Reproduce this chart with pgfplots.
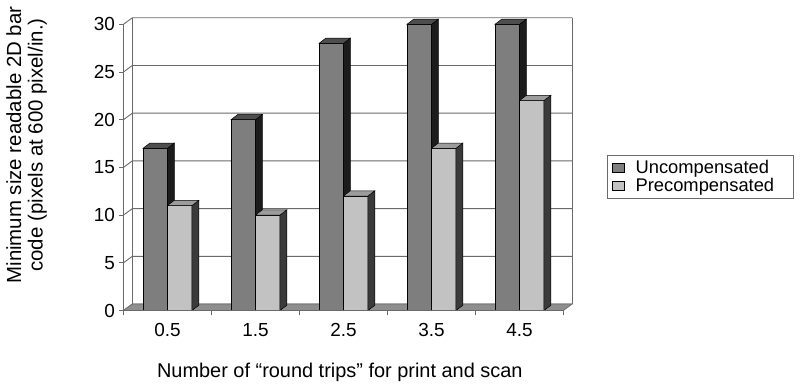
\documentclass[border=0pt]{standalone}
\usepackage{pgfplots}
\usepackage{pgfplotstable}
\usepackage{fontspec}
\setmainfont{Liberation Sans}
\pgfplotsset{compat=1.18}

\definecolor{uncFront}{HTML}{7E7E7E}
\definecolor{uncSide}{HTML}{1C1C1C}
\definecolor{uncTop}{HTML}{4E4E4E}
\definecolor{preFront}{HTML}{C2C2C2}
\definecolor{preSide}{HTML}{3A3A3A}
\definecolor{preTop}{HTML}{9C9C9C}
\definecolor{wallLine}{HTML}{6A6A6A}
\definecolor{floorFill}{HTML}{8E8E8E}

\pgfplotstableread{
x    unc  pre
0.5  17   11
1.5  20   10
2.5  28   12
3.5  30   17
4.5  30   22
}\roundtrips

% depth of a column and of the chart walls, in axis units
\def\bdx{0.078}\def\bdy{0.55}
\def\wdx{0.1}\def\wdy{0.68}
\def\bw{0.278}

% side and top faces of a column: #1 right edge of front face, #2 height
\newcommand\columnfaces[4]{%
  \pgfmathsetmacro\xr{#1}%
  \pgfmathsetmacro\xl{#1-\bw}%
  \pgfmathsetmacro\xrb{#1+\bdx}%
  \pgfmathsetmacro\xlb{#1-\bw+\bdx}%
  \pgfmathsetmacro\yt{#2+\bdy}%
  \edef\tmp{%
    \noexpand\addplot[forget plot,fill=#3,draw=black,line width=0.5bp]
      coordinates {(\xr,0) (\xrb,\bdy) (\xrb,\yt) (\xr,#2)} -- cycle;
    \noexpand\addplot[forget plot,fill=#4,draw=black,line width=0.5bp]
      coordinates {(\xl,#2) (\xlb,\yt) (\xrb,\yt) (\xr,#2)} -- cycle;}%
  \tmp}

\begin{document}
\begin{tikzpicture}
\begin{axis}[
  at={(123.5bp,78.5bp)}, anchor=south west,
  scale only axis, width=448.8bp, height=292.9bp,
  xmin=0, xmax=5.1, ymin=0, ymax=30.7,
  clip=false,
  axis line style={draw=none},
  tick align=outside, xtick pos=left, ytick pos=left,
  major tick length=5bp, minor tick length=5bp,
  tick style={draw=wallLine, line width=0.8bp},
  xtick={0.5,1.5,2.5,3.5,4.5},
  xticklabels={0.5,1.5,2.5,3.5,4.5},
  major x tick style={draw=none},
  minor xtick={0,1,2,3,4,5},
  ytick={0,5,...,30},
  /pgf/number format/assume math mode=true,
  ticklabel style={font=\fontsize{19}{22}\selectfont},
  xticklabel style={yshift=-4bp},
  xlabel={Number of “round trips” for print and scan},
  xlabel style={at={(axis description cs:0.482,-0.21)}, anchor=center,
    font=\fontsize{20}{22}\selectfont},
  ylabel={Minimum size readable 2D bar\\code (pixels at 600 pixel/in.)},
  ylabel style={at={(axis description cs:-0.216,0.565)}, anchor=center,
    align=center, font=\fontsize{20.5}{21.5}\selectfont},
  legend style={at={(axis description cs:1.0767,0.531)}, anchor=north west,
    draw=wallLine, line width=0.8bp, font=\fontsize{18.4}{20}\selectfont,
    inner xsep=5bp, inner ysep=3bp, row sep=-0.5bp, column sep=9bp},
  legend cell align=left,
  legend image code/.code={\draw[#1,line width=0.5bp] (0bp,-4.5bp) rectangle (12bp,4.5bp);},
]
% back wall: gridlines with their short run across the side wall
\pgfplotsinvokeforeach{0,5,...,30}{%
  \pgfmathsetmacro\gy{#1+\wdy}%
  \pgfmathsetmacro\gx{5+\wdx}%
  \edef\tmp{\noexpand\addplot[forget plot,draw=wallLine,line width=0.9bp]
    coordinates {(0,#1) (\wdx,\gy) (\gx,\gy)};}\tmp}
\pgfmathsetmacro\wtop{30+\wdy}
\pgfmathsetmacro\wright{5+\wdx}
\edef\tmp{%
  \noexpand\addplot[forget plot,draw=wallLine,line width=0.9bp]
    coordinates {(\wdx,\wdy) (\wdx,\wtop)};
  \noexpand\addplot[forget plot,draw=wallLine,line width=0.9bp]
    coordinates {(\wright,\wdy) (\wright,\wtop)};
  \noexpand\addplot[forget plot,fill=floorFill,draw=wallLine,line width=0.6bp]
    coordinates {(0,0) (5,0) (\wright,\wdy) (\wdx,\wdy)} -- cycle;}
\tmp

% Uncompensated columns
\addplot[ybar, bar width=\bw, bar shift=-0.139, fill=uncFront, draw=black,
  line width=0.5bp] table[x=x, y=unc] {\roundtrips};
\addlegendentry{Uncompensated\hspace*{17bp}}
\pgfplotsinvokeforeach{0,...,4}{%
  \pgfplotstablegetelem{#1}{unc}\of\roundtrips
  \let\hval\pgfplotsretval
  \columnfaces{#1+0.5}{\hval}{uncSide}{uncTop}}

% Precompensated columns
\addplot[ybar, bar width=\bw, bar shift=0.139, fill=preFront, draw=black,
  line width=0.5bp] table[x=x, y=pre] {\roundtrips};
\addlegendentry{Precompensated}
\pgfplotsinvokeforeach{0,...,4}{%
  \pgfplotstablegetelem{#1}{pre}\of\roundtrips
  \let\hval\pgfplotsretval
  \columnfaces{#1+0.5+\bw}{\hval}{preSide}{preTop}}

% front edges of the chart
\addplot[forget plot,draw=wallLine,line width=0.9bp] coordinates {(0,30) (0,0) (5,0)};
\end{axis}
\path[use as bounding box] (0,0) rectangle (801bp,389bp);
\end{tikzpicture}
\end{document}
